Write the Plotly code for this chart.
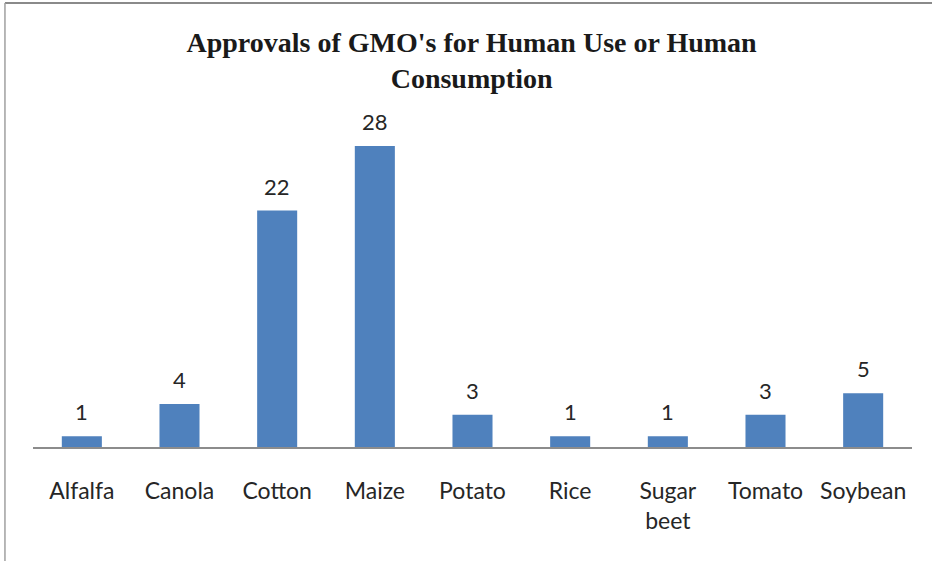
import plotly.graph_objects as go

categories = ["Alfalfa", "Canola", "Cotton", "Maize", "Potato", "Rice", "Sugar<br>beet", "Tomato", "Soybean"]
approvals = [1, 4, 22, 28, 3, 1, 1, 3, 5]

title_text = "Approvals of GMO's for Human Use or Human<br>Consumption"

fig = go.Figure()
fig.add_trace(go.Bar(
    x=categories, y=approvals,
    marker=dict(color="#4F81BD", line=dict(width=0)),
    hoverinfo="x+y",
))

for c, v in zip(categories, approvals):
    fig.add_annotation(x=c, y=v, text=str(v), showarrow=False,
                       yanchor="bottom", yshift=9,
                       font=dict(family="Lato, Open Sans, sans-serif", size=22, color="#262626"))

# outer frame lines (top and left)
fig.add_shape(type="line", xref="paper", yref="paper",
              x0=-0.0319, x1=1.03, y0=1.358, y1=1.358,
              line=dict(color="#8a8a8a", width=2))
fig.add_shape(type="line", xref="paper", yref="paper",
              x0=-0.0319, x1=-0.0319, y0=1.358, y1=-0.5,
              line=dict(color="#a0a0a0", width=1.5))

fig.update_layout(
    width=932, height=561,
    margin=dict(l=33, r=20, t=120, b=114),
    paper_bgcolor="white", plot_bgcolor="white",
    bargap=0.59,
    showlegend=False,
    title=dict(text=title_text, x=0.506, xanchor="center", y=0.908, yanchor="top",
               font=dict(family="Liberation Serif, serif", size=28, color="#1a1a1a", weight="bold")),
    xaxis=dict(showline=True, linecolor="#8c8c8c", linewidth=1.5, ticks="",
               showgrid=False, ticklabelstandoff=23,
               tickfont=dict(family="Lato, Open Sans, sans-serif", size=23, color="#262626")),
    yaxis=dict(visible=False, range=[0, 30.42], showgrid=False, zeroline=False),
)

fig.write_html("out.html")
